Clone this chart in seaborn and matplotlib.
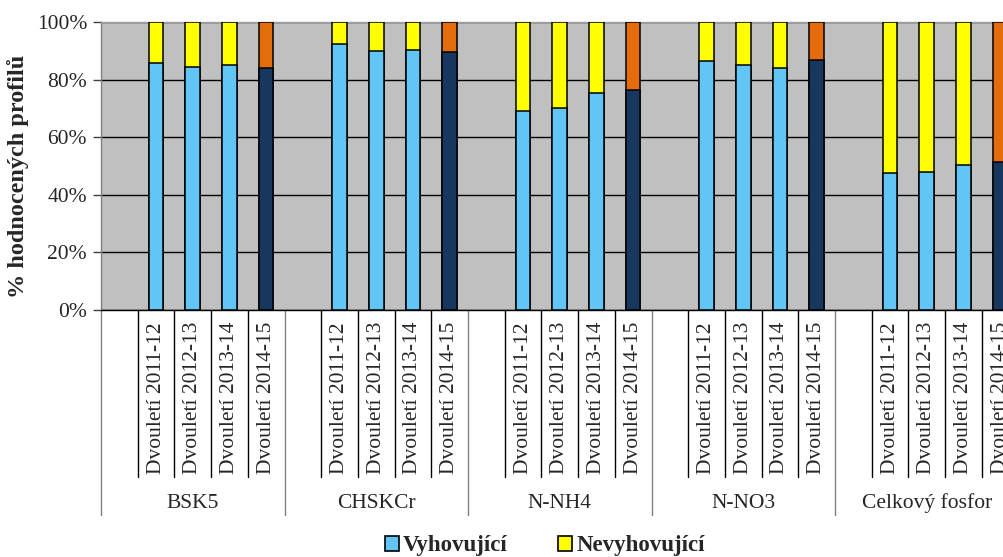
import matplotlib
matplotlib.use("Agg")
import matplotlib.pyplot as plt
import matplotlib.transforms as mtransforms
from matplotlib.patches import Patch
import numpy as np
import pandas as pd
import seaborn as sns

# ---- data -------------------------------------------------------------
groups = ["BSK5", "CHSKCr", "N-NH4", "N-NO3", "Celkový fosfor"]
periods = ["Dvouletí 2011-12", "Dvouletí 2012-13", "Dvouletí 2013-14", "Dvouletí 2014-15"]
vyhovujici = {
    "BSK5":           [85.6, 84.5, 85.1, 84.1],
    "CHSKCr":         [92.2, 89.9, 90.2, 89.6],
    "N-NH4":          [69.1, 70.2, 75.5, 76.4],
    "N-NO3":          [86.6, 85.1, 84.1, 86.8],
    "Celkový fosfor": [47.7, 47.9, 50.5, 51.5],
}
legend_labels = ["Vyhovující", "Nevyhovující"]

# ---- styling ----------------------------------------------------------
c_ok = "#63C5F5"
c_ok_last = "#17375E"
c_bad = "#FFFF00"
c_bad_last = "#E46C0A"
bg = "#C0C0C0"

sns.set_theme(style="white")
plt.rcParams["font.family"] = ["Liberation Serif", "DejaVu Serif"]
FS = 15.5

# ---- long table with an empty slot opening every group ----------------
rows = []
order = []
for g in groups:
    order.append(f"{g}|")
    for i, p in enumerate(periods):
        key = f"{g}|{p}"
        order.append(key)
        rows.append({"slot": key, "ok": vyhovujici[g][i], "total": 100.0,
                     "last": i == len(periods) - 1})
df = pd.DataFrame(rows)

pal_total = {r.slot: (c_bad_last if r.last else c_bad) for r in df.itertuples()}
pal_ok = {r.slot: (c_ok_last if r.last else c_ok) for r in df.itertuples()}

W, H = 1004, 557
fig = plt.figure(figsize=(W / 100, H / 100), dpi=100)
slot_px = 36.7
left_px, top_px, bottom_px = 101, 22, 310
ax_w_px = len(order) * slot_px
ax = fig.add_axes([left_px / W, 1 - bottom_px / H,
                   ax_w_px / W, (bottom_px - top_px) / H])
ax.set_facecolor(bg)

sns.barplot(data=df, x="slot", y="total", hue="slot", order=order,
            palette=pal_total, saturation=1, width=0.4, edgecolor="black",
            linewidth=1.1, legend=False, ax=ax, zorder=3)
sns.barplot(data=df, x="slot", y="ok", hue="slot", order=order,
            palette=pal_ok, saturation=1, width=0.4, edgecolor="black",
            linewidth=1.1, legend=False, ax=ax, zorder=4)

ax.set_xlim(-0.5, len(order) - 0.5)
ax.set_ylim(0, 100)
ax.set_yticks(np.arange(0, 101, 20))
ax.set_yticklabels([f"{v}%" for v in range(0, 101, 20)], fontsize=FS)
ax.yaxis.grid(True, color="black", linewidth=1.0)
ax.set_axisbelow(True)
ax.tick_params(axis="y", which="both", left=True, length=6, width=1,
               color="#404040", pad=4)
ax.set_xticks([])
ax.set_xlabel("")
ax.set_ylabel("% hodnocených profilů", fontsize=17.5, fontweight="bold")
ax.yaxis.set_label_coords((29 - left_px) / ax_w_px,
                          (bottom_px - 176) / (bottom_px - top_px))

for side in ["top", "right"]:
    ax.spines[side].set_color("#A0A0A0")
ax.spines["left"].set_color("#808080")
ax.spines["bottom"].set_color("black")
for s in ax.spines.values():
    s.set_linewidth(1.0)

# ---- two-level category axis ------------------------------------------
trans = mtransforms.blended_transform_factory(ax.transData, ax.transAxes)
ax_h = bottom_px - top_px
inner_end = -(477 - bottom_px) / ax_h
outer_end = -(515 - bottom_px) / ax_h
label_top = -(322 - bottom_px) / ax_h
group_label_y = -(503 - bottom_px) / ax_h

for gi, g in enumerate(groups):
    base = gi * 5
    ax.plot([base - 0.5, base - 0.5], [0, outer_end], transform=trans,
            color="#808080", lw=1.0, clip_on=False)
    for k in range(1, 5):
        x = base + k - 0.5
        ax.plot([x, x], [0, inner_end], transform=trans,
                color="black", lw=1.0, clip_on=False)
    for k, p in enumerate(periods):
        ax.text(base + k + 1, label_top, p, transform=trans, rotation=90,
                ha="center", va="top", fontsize=FS, clip_on=False)
    ax.text(base + 2, group_label_y, g, transform=trans, ha="center",
            va="center", fontsize=FS, clip_on=False)

# ---- legend -----------------------------------------------------------
handles = [Patch(facecolor=c_ok, edgecolor="black", linewidth=1.2),
           Patch(facecolor=c_bad, edgecolor="black", linewidth=1.2)]
fig.legend(handles, legend_labels, loc="center",
           bbox_to_anchor=(545 / W, 1 - 546 / H), ncol=2, frameon=False,
           prop={"weight": "bold", "size": 16.5},
           handlelength=0.6, handleheight=0.6, handletextpad=0.2,
           columnspacing=2.2)

fig.savefig("out.png", dpi=100)
